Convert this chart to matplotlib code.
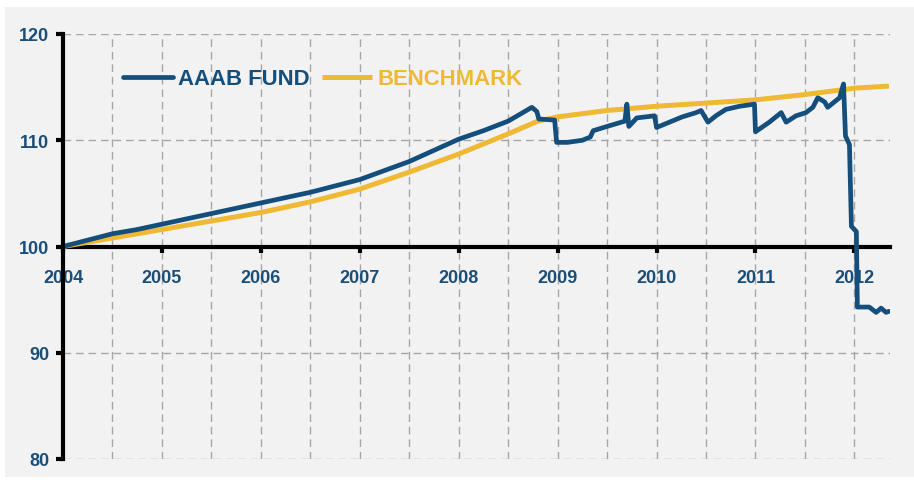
import matplotlib
matplotlib.use('Agg')
import matplotlib.pyplot as plt
from matplotlib.patches import Rectangle
from matplotlib.ticker import MultipleLocator

plt.rcParams['font.family'] = ['Liberation Sans', 'DejaVu Sans']

# fund series (fractional year, index value)
fund_years = [2004.00, 2004.25, 2004.50, 2004.75, 2005.00, 2005.50, 2006.00, 2006.50,
              2007.00, 2007.50, 2008.00, 2008.25, 2008.50, 2008.74, 2008.79, 2008.81,
              2008.97, 2008.99, 2009.10, 2009.25, 2009.33, 2009.36, 2009.50, 2009.68,
              2009.70, 2009.72, 2009.80, 2009.98, 2010.00, 2010.13, 2010.26, 2010.40,
              2010.45, 2010.52, 2010.60, 2010.70, 2010.84, 2010.99, 2011.00, 2011.14,
              2011.26, 2011.31, 2011.41, 2011.51, 2011.58, 2011.63, 2011.70, 2011.73,
              2011.81, 2011.85, 2011.89, 2011.91, 2011.95, 2011.97, 2012.00, 2012.02,
              2012.03, 2012.15, 2012.22, 2012.27, 2012.32, 2012.35]
fund_values = [100.0, 100.6, 101.2, 101.6, 102.1, 103.1, 104.1, 105.1,
               106.3, 108.0, 110.1, 110.9, 111.8, 113.1, 112.7, 112.0,
               111.9, 109.8, 109.8, 110.0, 110.3, 110.9, 111.3, 111.8,
               113.4, 111.3, 112.1, 112.3, 111.2, 111.7, 112.2, 112.6,
               112.8, 111.7, 112.3, 112.9, 113.2, 113.4, 110.8, 111.7,
               112.6, 111.7, 112.3, 112.6, 113.1, 114.0, 113.6, 113.1,
               113.7, 114.0, 115.3, 110.4, 109.6, 101.9, 101.6, 101.4,
               94.3, 94.3, 93.8, 94.2, 93.8, 93.9]

# benchmark series
bench_years = [2004.0, 2004.5, 2005.0, 2005.5, 2006.0, 2006.5, 2007.0, 2007.5,
               2008.0, 2008.5, 2008.8, 2009.0, 2009.5, 2010.0, 2010.5, 2011.0,
               2011.5, 2012.0, 2012.35]
bench_values = [100.0, 100.8, 101.6, 102.4, 103.2, 104.2, 105.4, 107.0,
                108.7, 110.6, 111.8, 112.2, 112.8, 113.2, 113.5, 113.8,
                114.3, 114.9, 115.1]

year_ticks = [2004, 2005, 2006, 2007, 2008, 2009, 2010, 2011, 2012]
value_ticks = [80, 90, 100, 110, 120]

blue = '#134E7C'
gold = '#F0B933'
label_col = '#1B4F7A'

fig = plt.figure(figsize=(9.14, 4.81), dpi=100)
fig.patch.set_facecolor('white')
# light gray panel behind the chart
fig.patches.append(Rectangle((5/914, 3/481), 909/914, 470/481,
                             transform=fig.transFigure, facecolor='#F2F2F2',
                             edgecolor='none', zorder=-10))

ax = fig.add_axes([63/914, 1 - 460/481, 827/914, 425/481])
ax.set_facecolor('none')

ax.plot(bench_years, bench_values, color=gold, lw=3.6, solid_capstyle='butt',
        label='BENCHMARK', zorder=4)
ax.plot(fund_years, fund_values, color=blue, lw=3.4, solid_joinstyle='round',
        solid_capstyle='round', label='AAAB FUND', zorder=5)

ax.set_xlim(2004, 2012.36)
ax.set_ylim(80, 120)

# spines: left one normal, bottom one sits at 100
for s in ['top', 'right']:
    ax.spines[s].set_visible(False)
ax.spines['bottom'].set_position(('data', 100))
ax.spines['left'].set_linewidth(3)
ax.spines['bottom'].set_linewidth(3)
ax.spines['left'].set_zorder(6)
ax.spines['bottom'].set_zorder(3)

ax.set_xticks(year_ticks)
ax.set_xticklabels([str(y) for y in year_ticks])
ax.xaxis.set_minor_locator(MultipleLocator(0.5))
ax.set_yticks(value_ticks)
ax.tick_params(axis='x', which='major', direction='out', length=4, width=3,
               pad=12, labelsize=13, labelcolor=label_col)
ax.tick_params(axis='x', which='minor', length=0)
ax.tick_params(axis='y', direction='out', length=5, width=3, pad=5,
               labelsize=13, labelcolor=label_col)
for lab in ax.get_xticklabels() + ax.get_yticklabels():
    lab.set_fontweight('bold')

# dashed grid
ax.grid(True, axis='x', which='both', color='#A6A6A6', ls=(0, (5.5, 3.5)), lw=1.0)
ax.grid(True, axis='y', which='major', color='#A6A6A6', ls=(0, (5.5, 3.5)), lw=1.0)
ax.set_axisbelow(True)

handles, labels = ax.get_legend_handles_labels()
leg = ax.legend(handles[::-1], labels[::-1], ncol=2, frameon=False,
                loc='center left', bbox_to_anchor=(60/827, 380/425),
                borderpad=0, borderaxespad=0, handlelength=2.25,
                handletextpad=0.25, columnspacing=0.55,
                prop={'weight': 'bold', 'size': 15.9})
for txt, c in zip(leg.get_texts(), [blue, gold]):
    txt.set_color(c)

fig.savefig('out.png', dpi=100)
